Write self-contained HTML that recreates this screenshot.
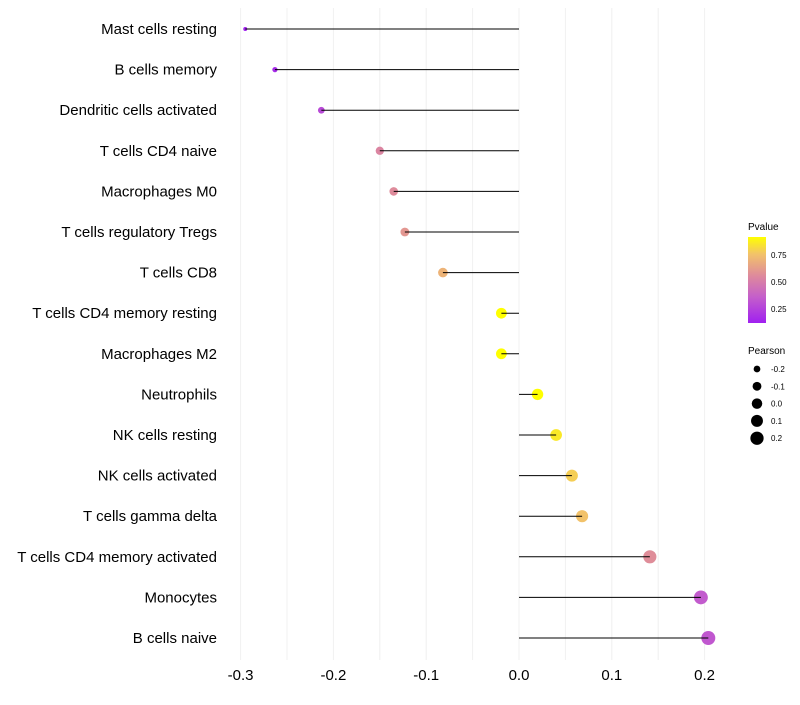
<!DOCTYPE html>
<html><head><meta charset="utf-8"><style>
body{margin:0;background:#fff;}
svg{font-family:"Liberation Sans",sans-serif;}
</style></head><body>
<svg id="chart" width="800" height="700">
<defs><linearGradient id="pg" x1="0" y1="1" x2="0" y2="0">
<stop offset="0" stop-color="#a020f0"/><stop offset="0.3" stop-color="#c45ecb"/><stop offset="0.55" stop-color="#de8a9c"/><stop offset="0.8" stop-color="#f2c26a"/><stop offset="1" stop-color="#ffff00"/></linearGradient></defs>
<g id="grid"></g><g id="marks"></g><g id="ylabels"></g><g id="xticks"></g>
<g>
<text x="748" y="230" font-size="10">Pvalue</text>
<rect x="748" y="237" width="18" height="86" fill="url(#pg)"/>
<text x="771" y="258" font-size="8">0.75</text>
<text x="771" y="285" font-size="8">0.50</text>
<text x="771" y="312" font-size="8">0.25</text>
</g>
<g id="sizelegend">
<text x="748" y="354" font-size="10">Pearson</text>
</g>
</svg>
<script>
const categories=["Mast cells resting","B cells memory","Dendritic cells activated","T cells CD4 naive","Macrophages M0","T cells regulatory  Tregs ","T cells CD8","T cells CD4 memory resting","Macrophages M2","Neutrophils","NK cells resting","NK cells activated","T cells gamma delta","T cells CD4 memory activated","Monocytes","B cells naive"];
const pearson=[-0.295,-0.263,-0.213,-0.150,-0.135,-0.123,-0.082,-0.019,-0.019,0.020,0.040,0.057,0.068,0.141,0.196,0.204];
const pvalue=[0.04,0.08,0.22,0.52,0.55,0.6,0.72,0.97,0.97,0.97,0.9,0.82,0.78,0.56,0.3,0.28];
const xTicks=[-0.3,-0.2,-0.1,0.0,0.1,0.2];
const sizeLegend=[-0.2,-0.1,0.0,0.1,0.2];
const NS="http://www.w3.org/2000/svg";
const X=v=>519+v*928;
const Y=i=>29+i*40.6;
const R=v=>Math.sqrt(Math.max(1,4+90*(v+0.295)));
const stops=[[0,[160,32,240]],[0.3,[196,94,203]],[0.55,[222,138,156]],[0.8,[242,194,106]],[1,[255,255,0]]];
function col(p){p=Math.max(0,Math.min(1,(p-0.03)/0.94));for(let k=1;k<stops.length;k++){if(p<=stops[k][0]){const a=stops[k-1],b=stops[k],t=(p-a[0])/(b[0]-a[0]);return "rgb("+a[1].map((c,j)=>Math.round(c+(b[1][j]-c)*t)).join(",")+")";}}return "rgb(255,255,0)";}
function mk(tag,at,parent){const e=document.createElementNS(NS,tag);for(const k in at)e.setAttribute(k,at[k]);parent.appendChild(e);return e;}
const grid=document.getElementById("grid"),marks=document.getElementById("marks"),yl=document.getElementById("ylabels"),xt=document.getElementById("xticks"),sl=document.getElementById("sizelegend");
for(let v=-0.3;v<=0.2001;v+=0.05){const l=mk("line",{x1:X(v),x2:X(v),y1:8,y2:660,stroke:"#f0f0f0","stroke-width":1},grid);

}
categories.forEach((c,i)=>{
 const dot=mk("circle",{cx:X(pearson[i]),cy:Y(i),r:R(pearson[i]),fill:col(pvalue[i])},marks);
 
 
 const ln=mk("line",{x1:X(0),x2:X(pearson[i]),y1:Y(i),y2:Y(i),stroke:"#000","stroke-width":1},marks);
 
 
 const t=mk("text",{x:217,y:Y(i)+5,"text-anchor":"end","font-size":15,fill:"#000"},yl);t.textContent=c;
 
 
});
xTicks.forEach(v=>{const t=mk("text",{x:X(v),y:680,"text-anchor":"middle","font-size":15,fill:"#000"},xt);t.textContent=v.toFixed(1);
 
 });
sizeLegend.forEach((v,k)=>{const y=369+k*17.3;
 const c=mk("circle",{cx:757,cy:y,r:R(v)*0.95,fill:"#000"},sl);
 
 
 const t=mk("text",{x:771,y:y+3,"font-size":8},sl);t.textContent=v.toFixed(1);
 
 });
</script>
</body></html>
